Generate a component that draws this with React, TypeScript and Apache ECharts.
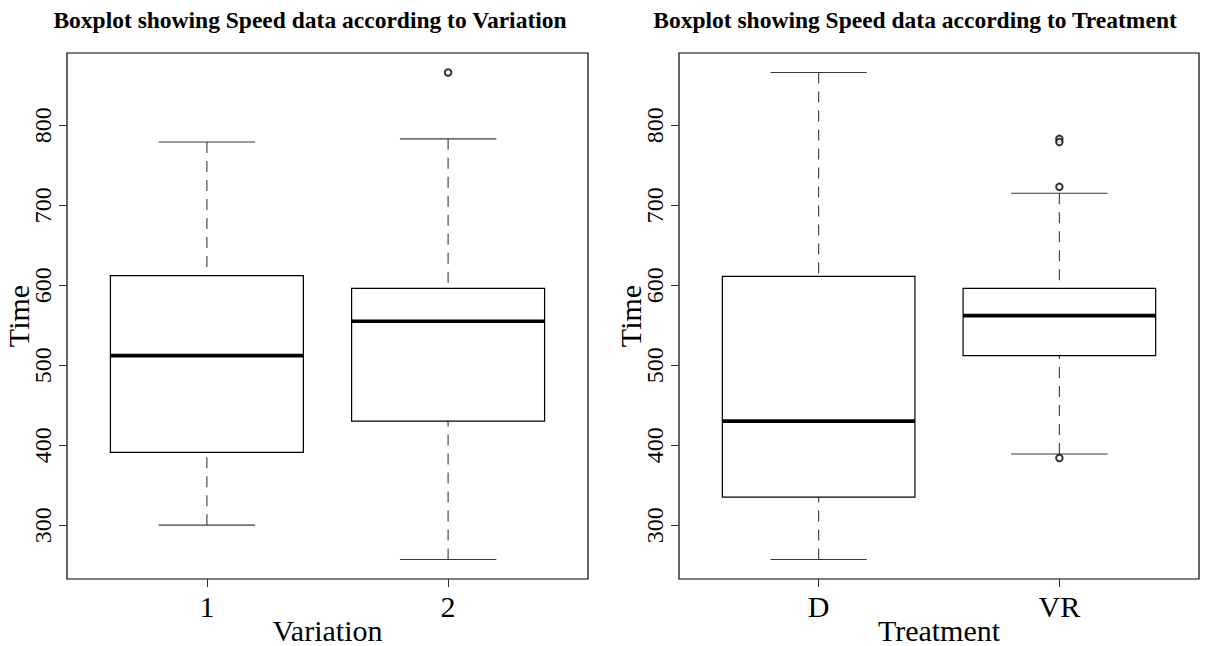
import React, { useEffect, useRef } from 'react';
import * as echarts from 'echarts';

// Five-number summaries per group: [lower whisker, Q1, median, Q3, upper whisker]
const variationGroups = ['1', '2'];
const variationStats = [
  [300, 391, 512, 612, 779],
  [257, 430, 555, 596, 783],
];
const variationOutliers = [[], [866]];

const treatmentGroups = ['D', 'VR'];
const treatmentStats = [
  [257, 335, 430, 611, 866],
  [389, 512, 562, 596, 715],
];
const treatmentOutliers = [[], [783, 779, 723, 384]];

const yTicks = [300, 400, 500, 600, 700, 800];

const SERIF = '"Liberation Serif", "DejaVu Serif", serif';
const BOX_WEX = 0.8;
const STAPLE_WEX = 0.5;

type Panel = {
  title: string;
  xName: string;
  groups: string[];
  stats: number[][];
  outliers: number[][];
  left: number;
  width: number;
  titleX: number;
};

const panels: Panel[] = [
  {
    title: 'Boxplot showing Speed data according to Variation',
    xName: 'Variation',
    groups: variationGroups,
    stats: variationStats,
    outliers: variationOutliers,
    left: 67,
    width: 521,
    titleX: 310,
  },
  {
    title: 'Boxplot showing Speed data according to Treatment',
    xName: 'Treatment',
    groups: treatmentGroups,
    stats: treatmentStats,
    outliers: treatmentOutliers,
    left: 679,
    width: 520,
    titleX: 915,
  },
];

const GRID_TOP = 53;
const GRID_HEIGHT = 526;

const renderBox = (_params: any, api: any) => {
  const x = api.value(0);
  const [cx, yLow] = api.coord([x, api.value(1)]);
  const yQ1 = api.coord([x, api.value(2)])[1];
  const yMed = api.coord([x, api.value(3)])[1];
  const yQ3 = api.coord([x, api.value(4)])[1];
  const yHigh = api.coord([x, api.value(5)])[1];
  const half =
    (api.coord([x + BOX_WEX / 2, 0])[0] - api.coord([x - BOX_WEX / 2, 0])[0]) / 2;
  const capHalf = half * STAPLE_WEX;
  const whisker = { stroke: '#3a3a3a', lineWidth: 1.1, lineDash: [11, 8] };
  const cap = { stroke: '#3a3a3a', lineWidth: 1.1 };
  return {
    type: 'group',
    children: [
      { type: 'line', shape: { x1: cx, y1: yHigh, x2: cx, y2: yQ3 }, style: whisker },
      { type: 'line', shape: { x1: cx, y1: yLow, x2: cx, y2: yQ1 }, style: whisker },
      { type: 'line', shape: { x1: cx - capHalf, y1: yHigh, x2: cx + capHalf, y2: yHigh }, style: cap },
      { type: 'line', shape: { x1: cx - capHalf, y1: yLow, x2: cx + capHalf, y2: yLow }, style: cap },
      {
        type: 'rect',
        shape: { x: cx - half, y: yQ3, width: half * 2, height: yQ1 - yQ3 },
        style: { fill: 'none', stroke: '#000', lineWidth: 1.2 },
      },
      {
        type: 'line',
        shape: { x1: cx - half, y1: yMed, x2: cx + half, y2: yMed },
        style: { stroke: '#000', lineWidth: 3.6 },
      },
    ],
  };
};

function buildOption() {
  const grid: any[] = [];
  const xAxis: any[] = [];
  const yAxis: any[] = [];
  const series: any[] = [];
  const graphic: any[] = [];

  panels.forEach((p, i) => {
    const n = p.groups.length;
    const xPad = 0.04 * n;
    const values = [...p.stats.flat(), ...p.outliers.flat()];
    const vMin = Math.min(...values);
    const vMax = Math.max(...values);
    const yPad = 0.04 * (vMax - vMin);
    const xTicks = p.groups.map((_, k) => k + 1);

    grid.push({
      left: p.left,
      top: GRID_TOP,
      width: p.width,
      height: GRID_HEIGHT,
      show: true,
      borderColor: '#000',
      borderWidth: 1.2,
      backgroundColor: 'transparent',
      containLabel: false,
      outerBoundsMode: 'none',
    });

    xAxis.push({
      type: 'value',
      gridIndex: i,
      min: 0.5 - xPad,
      max: n + 0.5 + xPad,
      splitLine: { show: false },
      axisLine: { show: false },
      axisTick: {
        show: true,
        inside: false,
        length: 8,
        customValues: xTicks,
        lineStyle: { color: '#333', width: 1 },
      },
      axisLabel: {
        customValues: xTicks,
        formatter: (v: number) => p.groups[Math.round(v) - 1] ?? '',
        fontFamily: SERIF,
        fontSize: 30,
        color: '#000',
        margin: 12,
      },
      name: p.xName,
      nameLocation: 'middle',
      nameGap: 36,
      nameMoveOverlap: false,
      nameTextStyle: { fontFamily: SERIF, fontSize: 30, color: '#000' },
    });

    yAxis.push({
      type: 'value',
      gridIndex: i,
      min: vMin - yPad,
      max: vMax + yPad,
      splitLine: { show: false },
      axisLine: { show: false },
      axisTick: {
        show: true,
        inside: false,
        length: 8,
        customValues: yTicks,
        lineStyle: { color: '#333', width: 1 },
      },
      axisLabel: {
        customValues: yTicks,
        rotate: 90,
        fontFamily: SERIF,
        fontSize: 24,
        color: '#000',
        margin: 12,
      },
      name: 'Time',
      nameLocation: 'middle',
      nameRotate: 90,
      nameGap: 34,
      nameMoveOverlap: false,
      nameTextStyle: { fontFamily: SERIF, fontSize: 30, color: '#000' },
    });

    series.push({
      type: 'custom',
      xAxisIndex: i,
      yAxisIndex: i,
      renderItem: renderBox,
      encode: { x: 0, y: [1, 2, 3, 4, 5] },
      data: p.stats.map((s, k) => [k + 1, ...s]),
      silent: true,
    });

    series.push({
      type: 'scatter',
      xAxisIndex: i,
      yAxisIndex: i,
      symbol: 'emptyCircle',
      symbolSize: 6.5,
      itemStyle: { color: '#000', borderWidth: 1 },
      data: p.outliers.flatMap((vals, k) => vals.map((v) => [k + 1, v])),
      silent: true,
    });

    graphic.push({
      type: 'text',
      x: p.titleX,
      y: 20,
      style: {
        text: p.title,
        font: `bold 23.5px ${SERIF}`,
        fill: '#000',
        align: 'center',
        verticalAlign: 'middle',
      },
    });
  });

  return {
    animation: false,
    backgroundColor: '#fff',
    grid,
    xAxis,
    yAxis,
    series,
    graphic,
  };
}

export default function App() {
  const ref = useRef<HTMLDivElement>(null);

  useEffect(() => {
    if (!ref.current) return;
    const chart = echarts.init(ref.current, undefined, { renderer: 'svg' });
    chart.setOption(buildOption() as any);
    return () => chart.dispose();
  }, []);

  return (
    <div
      ref={ref}
      style={{ position: 'absolute', left: 0, top: 0, width: 1222, height: 646 }}
    />
  );
}
